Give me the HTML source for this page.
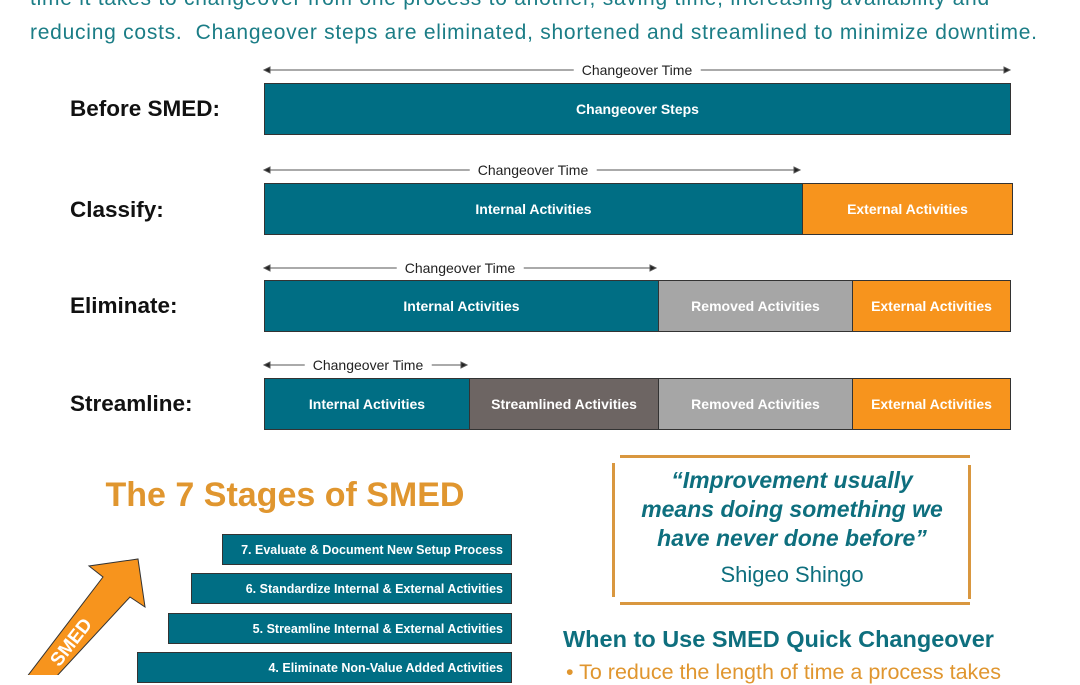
<!DOCTYPE html>
<html><head><meta charset="utf-8"><style>
body{margin:0;width:1080px;height:675px;overflow:hidden;background:#fff;font-family:"Liberation Sans",sans-serif;position:relative}
.a{position:absolute}
.t{color:#1b7d86;font-size:21px;letter-spacing:0.75px;left:30px;white-space:nowrap}
.lab{font-weight:bold;font-size:22.5px;color:#111;left:70px}
.bar{position:absolute;height:52px;border:1px solid #333;box-sizing:border-box;color:#fff;font-weight:bold;font-size:14px;display:flex;align-items:center;justify-content:center}
.tl{background:#006e84}.or{background:#f7941d}.gr{background:#a6a6a6}.dg{background:#6d6563}
.ctl{position:absolute;font-size:14px;color:#222;background:#fff;padding:0 8px;transform:translate(-50%,-50%)}
.st{position:absolute;height:31px;background:#006e84;border:1px solid #333;box-sizing:border-box;color:#fff;font-weight:bold;font-size:12.5px;display:flex;align-items:center;justify-content:flex-end;padding-right:8px;right:568px}
</style></head><body>
<div class="a t" style="top:-13px">time it takes to changeover from one process to another, saving time, increasing availability and</div>
<div class="a t" style="top:21px">reducing costs.&nbsp; Changeover steps are eliminated, shortened and streamlined to minimize downtime.</div>

<svg class="a" style="left:0;top:0" width="1080" height="450">
<g stroke="#555" fill="#222">
<line x1="266" y1="70" x2="1008" y2="70"/><polygon points="264,70 270,67 270,73"/><polygon points="1010,70 1004,67 1004,73"/>
<line x1="266" y1="170" x2="798" y2="170"/><polygon points="264,170 270,167 270,173"/><polygon points="800,170 794,167 794,173"/>
<line x1="266" y1="268" x2="654" y2="268"/><polygon points="264,268 270,265 270,271"/><polygon points="656,268 650,265 650,271"/>
<line x1="266" y1="365" x2="465" y2="365"/><polygon points="264,365 270,362 270,368"/><polygon points="467,365 461,362 461,368"/>
</g></svg>
<div class="ctl" style="left:637px;top:70px">Changeover Time</div>
<div class="ctl" style="left:533px;top:170px">Changeover Time</div>
<div class="ctl" style="left:460px;top:268px">Changeover Time</div>
<div class="ctl" style="left:368px;top:365px">Changeover Time</div>

<div class="a lab" style="top:96px">Before SMED:</div>
<div class="a lab" style="top:197px">Classify:</div>
<div class="a lab" style="top:293px">Eliminate:</div>
<div class="a lab" style="top:391px">Streamline:</div>

<div class="bar tl" style="left:264px;top:83px;width:747px">Changeover Steps</div>
<div class="bar tl" style="left:264px;top:183px;width:539px">Internal Activities</div>
<div class="bar or" style="left:802px;top:183px;width:211px">External Activities</div>
<div class="bar tl" style="left:264px;top:280px;width:395px">Internal Activities</div>
<div class="bar gr" style="left:658px;top:280px;width:195px">Removed Activities</div>
<div class="bar or" style="left:852px;top:280px;width:159px">External Activities</div>
<div class="bar tl" style="left:264px;top:378px;width:206px">Internal Activities</div>
<div class="bar dg" style="left:469px;top:378px;width:190px">Streamlined Activities</div>
<div class="bar gr" style="left:658px;top:378px;width:195px">Removed Activities</div>
<div class="bar or" style="left:852px;top:378px;width:159px">External Activities</div>

<div class="a" style="left:0;width:570px;top:476px;text-align:center;font-size:34px;font-weight:bold;color:#e0962f">The 7 Stages of SMED</div>
<div class="st" style="left:222px;top:534px">7. Evaluate &amp; Document New Setup Process</div>
<div class="st" style="left:191px;top:573px">6. Standardize Internal &amp; External Activities</div>
<div class="st" style="left:168px;top:613px">5. Streamline Internal &amp; External Activities</div>
<div class="st" style="left:137px;top:652px">4. Eliminate Non-Value Added Activities</div>
<svg class="a" style="left:0;top:540px" width="200" height="135">
<polygon points="138,19 145,67 130,57 55,138 26,138 103,37 89,26" fill="#f7941d" stroke="#333" stroke-width="1"/>
<text x="0" y="0" transform="translate(76,106) rotate(-52)" fill="#fff" font-weight="bold" font-size="19" text-anchor="middle" font-family="Liberation Sans">SMED</text>
</svg>

<div class="a" style="left:620px;top:455px;width:350px;height:3px;background:#d9973f"></div>
<div class="a" style="left:620px;top:602px;width:350px;height:3px;background:#d9973f"></div>
<div class="a" style="left:612px;top:463px;width:3px;height:134px;background:#d9973f"></div>
<div class="a" style="left:968px;top:465px;width:3px;height:134px;background:#d9973f"></div>
<div class="a" style="left:612px;width:360px;top:466px;text-align:center;color:#0e6f7e;font-weight:bold;font-style:italic;font-size:23px;line-height:29px">“Improvement usually<br>means doing something we<br>have never done before”</div>
<div class="a" style="left:612px;width:360px;top:562px;text-align:center;color:#0e6f7e;font-size:22px">Shigeo Shingo</div>
<div class="a" style="left:563px;top:626px;color:#0e6f7e;font-weight:bold;font-size:23.5px">When to Use SMED Quick Changeover</div>
<div class="a" style="left:566px;top:660px;color:#e0962f;font-size:21.5px;white-space:nowrap">• To reduce the length of time a process takes</div>
</body></html>
